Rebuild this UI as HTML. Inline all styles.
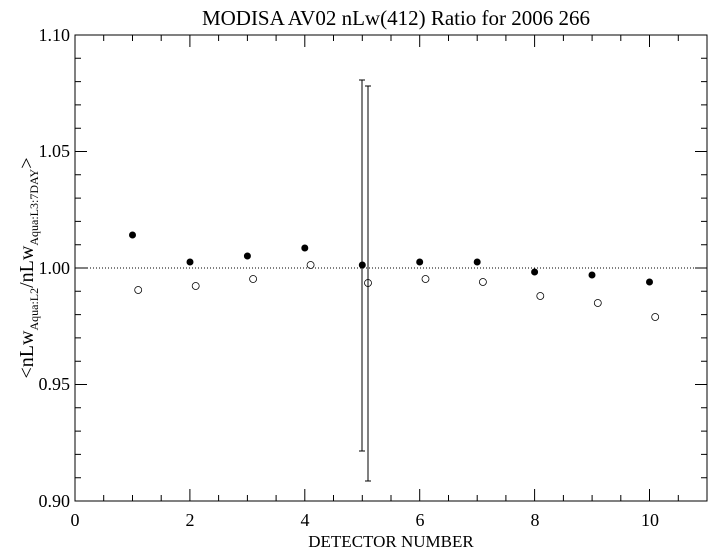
<!DOCTYPE html>
<html><head><style>body{margin:0;background:#fff}svg{display:block}text{font-family:"Liberation Serif",serif}</style></head><body>
<svg width="718" height="556" xmlns="http://www.w3.org/2000/svg">
<rect x="75" y="35" width="632" height="466" fill="none" stroke="#000"/>
<path stroke="#000" stroke-width="1" fill="none" d="
M103.7 501v-6M132.5 501v-6M161.2 501v-6M218.6 501v-6M247.4 501v-6M276.1 501v-6M333.5 501v-6M362.3 501v-6M391 501v-6M448.5 501v-6M477.2 501v-6M505.9 501v-6M563.4 501v-6M592.1 501v-6M620.8 501v-6M678.3 501v-6
M189.9 501v-12M304.8 501v-12M419.7 501v-12M534.6 501v-12M649.5 501v-12
M103.7 35v6M132.5 35v6M161.2 35v6M218.6 35v6M247.4 35v6M276.1 35v6M333.5 35v6M362.3 35v6M391 35v6M448.5 35v6M477.2 35v6M505.9 35v6M563.4 35v6M592.1 35v6M620.8 35v6M678.3 35v6
M189.9 35v12M304.8 35v12M419.7 35v12M534.6 35v12M649.5 35v12
M75 58.3h6M75 81.6h6M75 104.9h6M75 128.2h6M75 174.8h6M75 198.1h6M75 221.4h6M75 244.7h6M75 291.3h6M75 314.6h6M75 337.9h6M75 361.2h6M75 407.8h6M75 431.1h6M75 454.4h6M75 477.7h6
M75 151.5h12M75 268h12M75 384.5h12
M707 58.3h-6M707 81.6h-6M707 104.9h-6M707 128.2h-6M707 174.8h-6M707 198.1h-6M707 221.4h-6M707 244.7h-6M707 291.3h-6M707 314.6h-6M707 337.9h-6M707 361.2h-6M707 407.8h-6M707 431.1h-6M707 454.4h-6M707 477.7h-6
M707 151.5h-12M707 268h-12M707 384.5h-12"/>
<line x1="75" y1="268" x2="707" y2="268" stroke="#000" stroke-dasharray="1,2"/>
<g stroke="#000" stroke-width="1">
<line x1="362" y1="80" x2="362" y2="451"/><line x1="359" y1="80" x2="365" y2="80"/><line x1="359" y1="451" x2="365" y2="451"/>
<line x1="368" y1="86" x2="368" y2="481"/><line x1="365" y1="86" x2="371" y2="86"/><line x1="365" y1="481" x2="371" y2="481"/>
</g>
<g fill="#000">
<circle cx="132.5" cy="235" r="3.5"/><circle cx="190" cy="262" r="3.5"/><circle cx="247.4" cy="256" r="3.5"/><circle cx="304.8" cy="248" r="3.5"/><circle cx="362.3" cy="265" r="3.5"/><circle cx="419.7" cy="262" r="3.5"/><circle cx="477.2" cy="262" r="3.5"/><circle cx="534.6" cy="272" r="3.5"/><circle cx="592" cy="275" r="3.5"/><circle cx="649.5" cy="282" r="3.5"/>
</g>
<g fill="none" stroke="#000" stroke-width="0.8">
<circle cx="138.2" cy="290" r="3.5"/><circle cx="195.7" cy="286" r="3.5"/><circle cx="253.1" cy="279" r="3.5"/><circle cx="310.6" cy="265" r="3.5"/><circle cx="368" cy="283" r="3.5"/><circle cx="425.5" cy="279" r="3.5"/><circle cx="482.9" cy="282" r="3.5"/><circle cx="540.3" cy="296" r="3.5"/><circle cx="597.8" cy="303" r="3.5"/><circle cx="655.2" cy="317" r="3.5"/>
</g>
<text x="396" y="25" font-size="21" text-anchor="middle">MODISA AV02 nLw(412) Ratio for 2006 266</text>
<g font-size="18" text-anchor="end">
<text x="70" y="41">1.10</text><text x="70" y="157">1.05</text><text x="70" y="274">1.00</text><text x="70" y="390">0.95</text><text x="70" y="507">0.90</text>
</g>
<g font-size="18" text-anchor="middle">
<text x="75" y="526">0</text><text x="190" y="526">2</text><text x="305" y="526">4</text><text x="420" y="526">6</text><text x="535" y="526">8</text><text x="650" y="526">10</text>
</g>
<text x="391" y="547" font-size="17" text-anchor="middle">DETECTOR NUMBER</text>
<text transform="translate(33,268) rotate(-90)" font-size="20" text-anchor="middle">&lt;nLw<tspan font-size="12" dy="5">Aqua:L2</tspan><tspan dy="-5">/nLw</tspan><tspan font-size="12" dy="5">Aqua:L3:7DAY</tspan><tspan dy="-5">&gt;</tspan></text>
</svg>
</body></html>
